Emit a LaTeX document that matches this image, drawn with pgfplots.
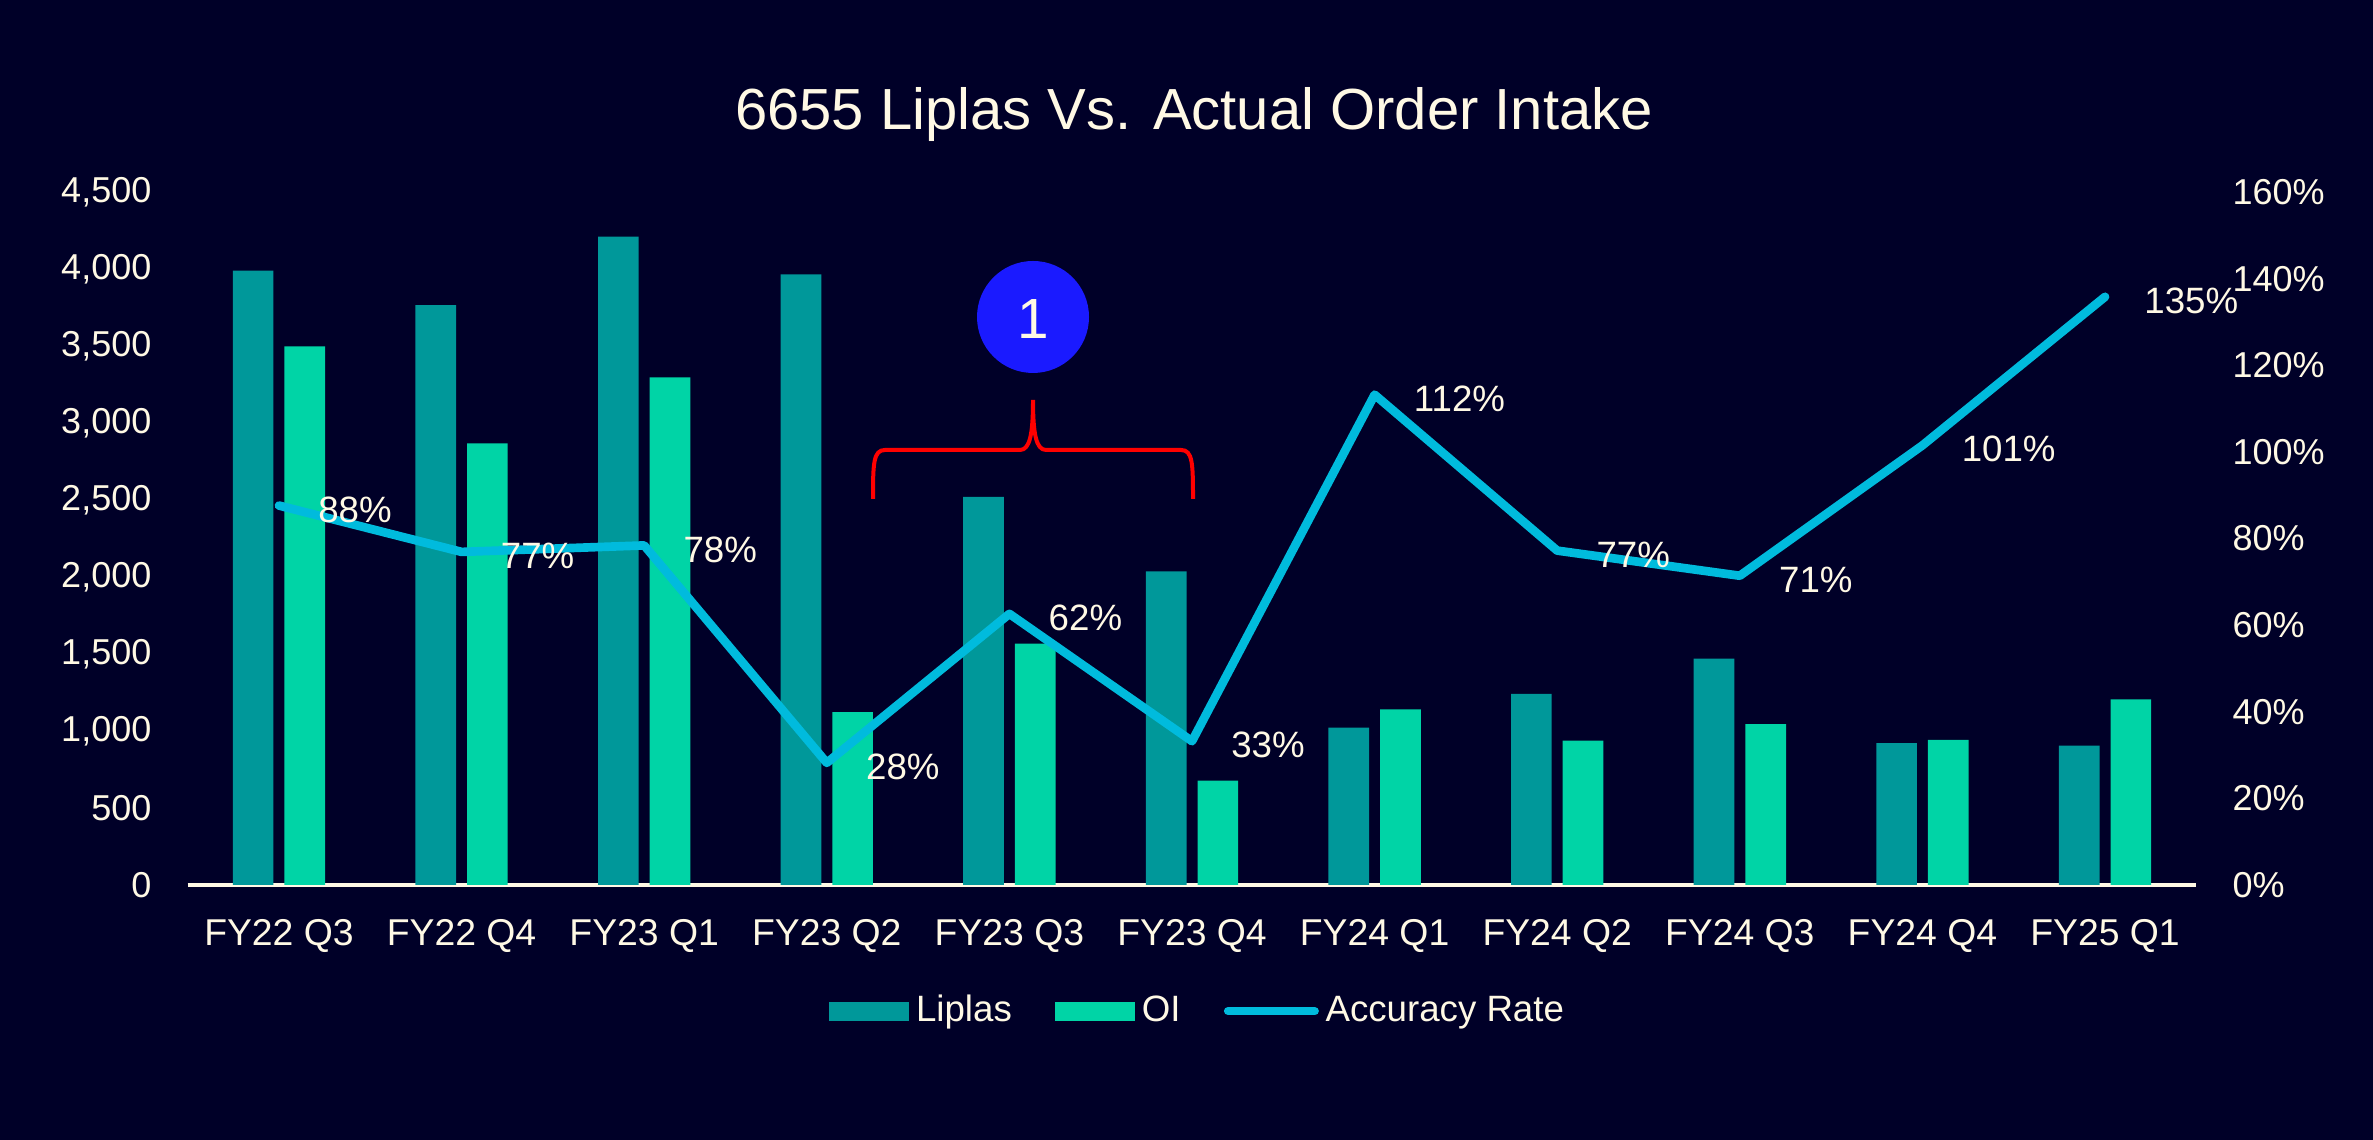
\documentclass[border=0pt]{standalone}
\usepackage{fontspec}
\setmainfont{Liberation Sans}
\usepackage{pgfplots}
\pgfplotsset{compat=1.18}
\definecolor{bg}{HTML}{000028}
\definecolor{txt}{HTML}{FFF9E5}
\definecolor{liplas}{HTML}{00989A}
\definecolor{oi}{HTML}{00D4A6}
\definecolor{linec}{HTML}{00BBDD}
\definecolor{circ}{HTML}{1A1AFF}
\definecolor{brace}{HTML}{FF0000}
\begin{document}
\begin{tikzpicture}
\useasboundingbox (0,0) rectangle (711.9pt,342pt);
\fill[bg] (0,0) rectangle (711.9pt,342pt);
\begin{axis}[
  at={(56.3pt,76.5pt)}, anchor=south west,
  scale only axis, width=602.6pt, height=207.9pt,
  xmin=-0.5, xmax=10.5, ymin=0, ymax=4500,
  ybar=3.3pt, bar width=12.2pt,
  axis x line*=bottom, axis y line*=left,
  y axis line style={draw=none},
  x axis line style={draw=txt, line width=1pt},
  xtick={0,...,10},
  xticklabels={FY22 Q3,FY22 Q4,FY23 Q1,FY23 Q2,FY23 Q3,FY23 Q4,FY24 Q1,FY24 Q2,FY24 Q3,FY24 Q4,FY25 Q1},
  ytick={0,500,1000,1500,2000,2500,3000,3500,4000,4500},
  yticklabels={0,500,{1,000},{1,500},{2,000},{2,500},{3,000},{3,500},{4,000},{4,500}},
  major tick length=0pt, tick style={draw=none},
  xticklabel style={font=\fontsize{11.2}{13}\selectfont, text=txt, inner sep=0pt, anchor=north, yshift=-10pt},
  yticklabel style={font=\fontsize{10.8}{12}\selectfont, text=txt, inner sep=0pt, anchor=east, xshift=-10.7pt},
  legend style={at={(0.504,-0.182)}, anchor=center, draw=none, fill=none, text=txt,
    font=\fontsize{11}{13}\selectfont, inner sep=0pt,
    /tikz/every even column/.append style={column sep=11pt}},
  legend columns=3,
]
\addplot[fill=liplas, draw=none,
  legend image code/.code={\fill[liplas] (0pt,-2.85pt) rectangle (24pt,2.85pt);}]
  coordinates {(0,3990) (1,3765) (2,4210) (3,3965) (4,2521) (5,2036) (6,1022) (7,1241) (8,1470) (9,922) (10,905)};
\addlegendentry{Liplas}
\addplot[fill=oi, draw=none,
  legend image code/.code={\fill[oi] (0pt,-2.85pt) rectangle (24pt,2.85pt);}]
  coordinates {(0,3497) (1,2867) (2,3296) (3,1122) (4,1568) (5,677) (6,1141) (7,938) (8,1045) (9,942) (10,1205)};
\addlegendentry{OI}
\addlegendimage{legend image code/.code={\draw[linec, line width=2.5pt, line cap=round] (0pt,0pt) -- (26pt,0pt);}}
\addlegendentry{Accuracy Rate}
\end{axis}
\begin{axis}[
  at={(56.3pt,76.5pt)}, anchor=south west,
  scale only axis, width=602.6pt, height=207.9pt,
  xmin=-0.5, xmax=10.5, ymin=0, ymax=160,
  axis x line=none, axis y line*=right,
  y axis line style={draw=none},
  xtick=\empty,
  ytick={0,20,40,60,80,100,120,140,160},
  yticklabels={0\%,20\%,40\%,60\%,80\%,100\%,120\%,140\%,160\%},
  major tick length=0pt, tick style={draw=none},
  yticklabel style={font=\fontsize{10.8}{12}\selectfont, text=txt, inner sep=0pt, anchor=west, xshift=10.7pt},
]
\addplot[color=linec, line width=2.6pt, line join=round, line cap=round, mark=none,
  point meta=explicit symbolic, nodes near coords,
  nodes near coords style={font=\fontsize{11}{13}\selectfont, text=txt, anchor=west, inner sep=0pt, xshift=10.5pt, yshift=-1.2pt}]
  coordinates {(0,87.6)[88\%] (1,76.9)[77\%] (2,78.4)[78\%] (3,28.2)[28\%] (4,62.6)[62\%] (5,33.2)[33\%] (6,113.2)[112\%] (7,77.2)[77\%] (8,71.4)[71\%] (9,101.5)[101\%] (10,135.8)[135\%]};
\end{axis}
\node[anchor=base, text=txt, font=\fontsize{17.4}{20}\selectfont] at (358.2pt,303pt) {6655 Liplas Vs. Actual Order Intake};
\fill[circ] (309.9pt,246.9pt) circle (16.8pt);
\node[text=txt, font=\fontsize{17}{20}\selectfont, inner sep=0pt] at (309.9pt,246.3pt) {1};
\draw[brace, line width=1.2pt] (261.9pt,192.3pt) .. controls (261.9pt,203pt) and (262pt,207pt) .. (265.5pt,207pt) -- (306pt,207pt) .. controls (309pt,207pt) and (309.9pt,212pt) .. (309.9pt,222pt) .. controls (309.9pt,212pt) and (310.8pt,207pt) .. (313.8pt,207pt) -- (354.3pt,207pt) .. controls (357.8pt,207pt) and (357.9pt,203pt) .. (357.9pt,192.3pt);
\end{tikzpicture}
\end{document}
